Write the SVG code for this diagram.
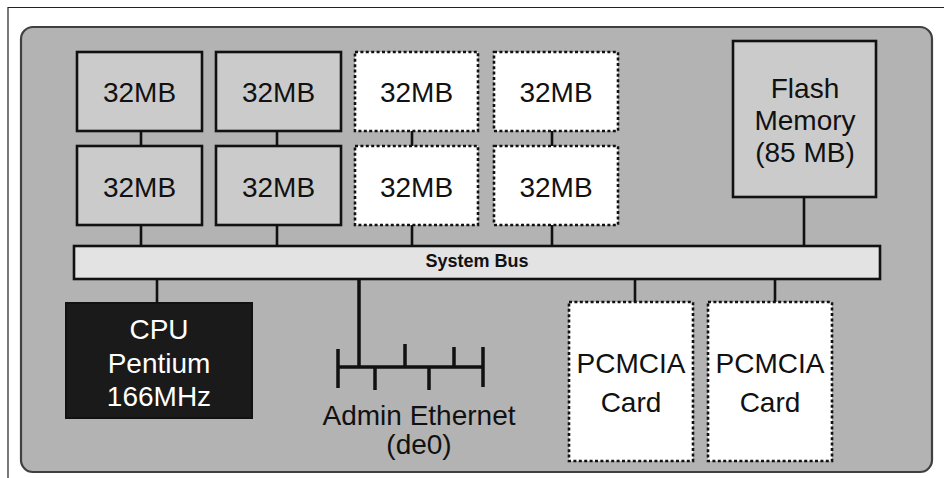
<svg xmlns="http://www.w3.org/2000/svg" width="944" height="478" viewBox="0 0 944 478">
<style>
text{font-family:"Liberation Sans",Arial,sans-serif;font-size:28px;text-anchor:middle;fill:#111}
.mem{fill:#cbcbcb;stroke:#111;stroke-width:2.6}
.opt{fill:#fff;stroke:#111;stroke-width:2.6;stroke-dasharray:3 2.4}
.wire{stroke:#111;stroke-width:2.6;fill:none}
.eth{stroke:#111;stroke-width:3.5;fill:none}
</style>
<rect width="944" height="478" fill="#fff"/>
<path d="M8 478V7.5H944" fill="none" stroke="#222" stroke-width="1.2"/>
<rect x="21" y="27" width="911" height="445" rx="12" fill="#b3b3b3" stroke="#404040" stroke-width="2.2"/>
<g id="connectors">
<line class="wire" x1="141" y1="131" x2="141" y2="146"/>
<line class="wire" x1="277" y1="131" x2="277" y2="146"/>
<line class="wire" x1="412" y1="131" x2="412" y2="146"/>
<line class="wire" x1="552" y1="131" x2="552" y2="146"/>
<line class="wire" x1="141" y1="225" x2="141" y2="246"/>
<line class="wire" x1="277" y1="225" x2="277" y2="246"/>
<line class="wire" x1="412" y1="225" x2="412" y2="246"/>
<line class="wire" x1="552" y1="225" x2="552" y2="246"/>
<line class="wire" x1="804" y1="197" x2="804" y2="246"/>
<line class="wire" x1="157" y1="279" x2="157" y2="303"/>
<line class="wire" x1="635" y1="279" x2="635" y2="302"/>
<line class="wire" x1="775" y1="279" x2="775" y2="302"/>
</g>
<g id="mem1"><rect class="mem" x="77" y="52" width="125" height="79"/><text x="139.5" y="102">32MB</text></g>
<g id="mem2"><rect class="mem" x="216" y="52" width="125" height="79"/><text x="278.5" y="102">32MB</text></g>
<g id="mem3"><rect class="opt" x="355" y="52" width="123" height="79"/><text x="416.5" y="102">32MB</text></g>
<g id="mem4"><rect class="opt" x="494" y="52" width="124" height="79"/><text x="556" y="102">32MB</text></g>
<g id="mem5"><rect class="mem" x="77" y="146" width="125" height="79"/><text x="139.5" y="197">32MB</text></g>
<g id="mem6"><rect class="mem" x="216" y="146" width="125" height="79"/><text x="278.5" y="197">32MB</text></g>
<g id="mem7"><rect class="opt" x="355" y="146" width="123" height="79"/><text x="416.5" y="197">32MB</text></g>
<g id="mem8"><rect class="opt" x="494" y="146" width="124" height="79"/><text x="556" y="197">32MB</text></g>
<g id="flash"><rect class="mem" x="733" y="41" width="143" height="156"/>
<text x="805" y="98">Flash</text><text x="805" y="130">Memory</text><text x="805" y="162">(85 MB)</text></g>
<g id="bus"><rect x="74" y="246" width="806" height="33" fill="#e3e3e3" stroke="#111" stroke-width="2.6"/>
<text x="477" y="267" style="font-size:18px;font-weight:bold">System Bus</text></g>
<g id="cpu"><rect x="66" y="303" width="186" height="115" fill="#1a1a1a" stroke="#111" stroke-width="2"/>
<text x="159" y="339" fill="#fff" style="fill:#fff">CPU</text><text x="159" y="373" style="fill:#fff">Pentium</text><text x="159" y="406" style="fill:#fff">166MHz</text></g>
<g id="ethernet">
<path class="eth" d="M359 279V367M338 367H483M338 349V388M483 347V387M405 344V367M454 347V367M375 367V390M429 367V390"/>
<text x="419" y="425">Admin Ethernet</text><text x="419" y="454">(de0)</text></g>
<g id="pcmcia1"><rect class="opt" x="569" y="302" width="124" height="159"/><text x="631" y="373">PCMCIA</text><text x="631" y="412">Card</text></g>
<g id="pcmcia2"><rect class="opt" x="708" y="302" width="124" height="159"/><text x="770" y="373">PCMCIA</text><text x="770" y="412">Card</text></g>
</svg>
